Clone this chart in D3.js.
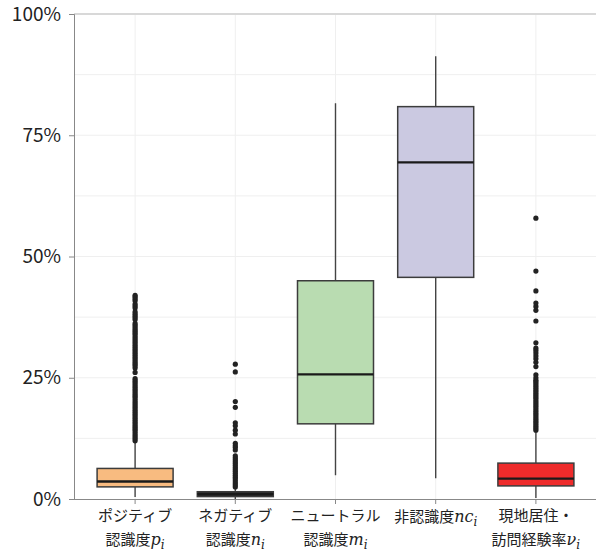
<!DOCTYPE html>
<html>
<head>
<meta charset="utf-8">
<script src="https://cdn.jsdelivr.net/npm/d3@7"></script>
<style>
  html, body { margin: 0; padding: 0; background: #ffffff; }
  svg { display: block; }
</style>
</head>
<body>
<svg id="chart" width="596" height="553"></svg>
<script>
// Category labels: text part, math symbol, subscript (two label lines)
const categories = ["p", "n", "m", "nc", "v"];
const labelLine1 = ["ポジティブ", "ネガティブ", "ニュートラル", "非認識度", "現地居住・"];
const labelLine2 = ["認識度", "認識度", "認識度", "", "訪問経験率"];
const labelSymbol = ["p", "n", "m", "nc", "ν"];

// Box statistics (percent)
const whiskerLow  = [0.4, 0.0, 4.9, 4.3, 0.2];
const q1          = [2.5, 0.5, 15.5, 45.7, 2.7];
const median      = [3.6, 1.0, 25.7, 69.4, 4.2];
const q3          = [6.3, 1.5, 45.0, 80.9, 7.4];
const whiskerHigh = [11.8, 2.3, 81.6, 91.3, 14.0];

// Outliers (percent)
const outliersP = [12.0, 12.4, 12.8, 13.2, 13.6, 14.0, 14.4, 14.8, 15.2, 15.6, 16.0, 16.4, 16.8,
  17.2, 17.6, 18.0, 18.4, 18.8, 19.2, 19.6, 20.0, 20.4, 20.8, 21.2, 21.6, 22.0, 22.4, 22.8,
  23.2, 23.6, 24.0, 24.4, 24.8, 26.1, 27.0, 27.4, 27.8, 28.2, 28.6, 29.0, 29.4, 29.8, 30.2,
  30.6, 31.0, 31.4, 31.8, 32.2, 32.6, 33.0, 33.4, 33.8, 34.2, 34.6, 35.0, 35.4, 35.8, 36.2,
  37.0, 37.4, 37.8, 38.2, 38.6, 39.4, 39.8, 40.2, 40.9, 41.3, 41.7, 42.0];
const outliersN = [2.5, 2.9, 3.3, 3.7, 4.1, 4.5, 4.9, 5.3, 5.7, 6.1, 6.5, 6.9, 7.3, 7.7, 8.1,
  8.5, 8.9, 10.1, 10.6, 11.0, 11.5, 13.4, 14.2, 15.1, 15.7, 18.9, 20.1, 26.2, 27.8];
const outliersM = [];
const outliersNC = [];
const outliersV = [14.2, 14.6, 15.0, 15.4, 15.8, 16.2, 16.6, 17.0, 17.4, 17.8, 18.2, 18.6, 19.0,
  19.4, 19.8, 20.2, 20.6, 21.0, 21.4, 21.8, 22.2, 22.6, 23.0, 23.4, 23.8, 24.2, 24.5, 25.0,
  25.6, 27.3, 28.2, 28.9, 29.5, 30.1, 30.6, 31.1, 32.2, 36.7, 38.9, 39.7, 40.4, 42.9, 47.0, 57.9];
const outliers = [outliersP, outliersN, outliersM, outliersNC, outliersV];

const fills = ["#f8bb80", "#2a2a2a", "#b9dcb1", "#cbc9e1", "#ee2b2b"];
const yTicks = [0, 25, 50, 75, 100];
const yGrid = [12.5, 25, 37.5, 50, 62.5, 75, 87.5];

const svg = d3.select("#chart");
const plotLeft = 74, plotRight = 596, plotTop = 14, plotBottom = 499;

const x = d3.scaleBand().domain(categories).range([85, 586]).padding(0);
const y = d3.scaleLinear().domain([0, 100]).range([plotBottom, plotTop]);
const boxW = 76;
const cx = c => x(c) + x.bandwidth() / 2;

// grid
svg.append("g").selectAll("line").data(yGrid).join("line")
  .attr("x1", plotLeft).attr("x2", plotRight)
  .attr("y1", d => y(d)).attr("y2", d => y(d))
  .attr("stroke", "#efefef").attr("stroke-width", 1);
svg.append("g").selectAll("line").data(categories).join("line")
  .attr("x1", d => cx(d)).attr("x2", d => cx(d))
  .attr("y1", plotTop).attr("y2", plotBottom)
  .attr("stroke", "#efefef").attr("stroke-width", 1);
svg.append("line")
  .attr("x1", plotLeft).attr("x2", plotRight).attr("y1", y(100)).attr("y2", y(100))
  .attr("stroke", "#d8d8d8").attr("stroke-width", 2);

// y axis
const yAxis = d3.axisLeft(y).tickValues(yTicks).tickFormat(d => d + "%").tickSize(5).tickPadding(8);
const gy = svg.append("g").attr("transform", `translate(${plotLeft},0)`).call(yAxis);
gy.select(".domain").attr("stroke", "#888");
gy.selectAll(".tick line").attr("stroke", "#888");
gy.selectAll(".tick text")
  .attr("font-family", "'Noto Sans CJK JP', 'Noto Sans', sans-serif")
  .attr("font-size", 19).attr("fill", "#222");

// x axis
const xAxis = d3.axisBottom(x).tickSize(5).tickFormat("");
const gx = svg.append("g").attr("transform", `translate(0,${plotBottom})`).call(xAxis);
gx.select(".domain").attr("d", `M${plotLeft},0.5H${plotRight}`).attr("stroke", "#888");
gx.selectAll(".tick line").attr("stroke", "#888");

// boxes
const stats = categories.map((c, i) => ({
  c, i, lo: whiskerLow[i], q1: q1[i], med: median[i], q3: q3[i], hi: whiskerHigh[i]
}));
const g = svg.append("g");
g.selectAll(".wlo").data(stats).join("line")
  .attr("x1", d => cx(d.c)).attr("x2", d => cx(d.c))
  .attr("y1", d => y(d.q1)).attr("y2", d => y(d.lo))
  .attr("stroke", "#444").attr("stroke-width", 1.4);
g.selectAll(".whi").data(stats).join("line")
  .attr("x1", d => cx(d.c)).attr("x2", d => cx(d.c))
  .attr("y1", d => y(d.q3)).attr("y2", d => y(d.hi))
  .attr("stroke", "#444").attr("stroke-width", 1.4);
g.selectAll("rect").data(stats).join("rect")
  .attr("x", d => cx(d.c) - boxW / 2).attr("width", boxW)
  .attr("y", d => y(d.q3)).attr("height", d => y(d.q1) - y(d.q3))
  .attr("fill", d => fills[d.i]).attr("stroke", "#3c3c3c").attr("stroke-width", 1.5);
g.selectAll(".med").data(stats).join("line")
  .attr("x1", d => cx(d.c) - boxW / 2).attr("x2", d => cx(d.c) + boxW / 2)
  .attr("y1", d => y(d.med)).attr("y2", d => y(d.med))
  .attr("stroke", "#1a1a1a").attr("stroke-width", 2.4);

// outliers
const pts = categories.flatMap((c, i) => outliers[i].map(v => ({ c, v })));
svg.append("g").selectAll("circle").data(pts).join("circle")
  .attr("cx", d => cx(d.c)).attr("cy", d => y(d.v)).attr("r", 2.6)
  .attr("fill", "#222");

// category labels
const cjk = "'Noto Sans CJK JP', 'Noto Sans', sans-serif";
const math = "'DejaVu Serif', 'Liberation Serif', serif";
const lab = svg.append("g").attr("font-family", cjk).attr("font-size", 15).attr("fill", "#222");
categories.forEach((c, i) => {
  const single = labelLine2[i] === "";
  const y1 = single ? 522 : 521;
  const t1 = lab.append("text").attr("x", cx(c)).attr("y", y1).attr("text-anchor", "middle");
  t1.append("tspan").text(labelLine1[i]);
  let target = t1;
  if (!single) {
    const t2 = lab.append("text").attr("x", cx(c)).attr("y", 545).attr("text-anchor", "middle");
    t2.append("tspan").text(labelLine2[i]);
    target = t2;
  }
  target.append("tspan").attr("font-family", math).attr("font-style", "italic")
    .attr("font-size", 16).text(labelSymbol[i]);
  target.append("tspan").attr("font-family", math).attr("font-style", "italic")
    .attr("font-size", 12).attr("dy", 4).text("i");
});
</script>
</body>
</html>
